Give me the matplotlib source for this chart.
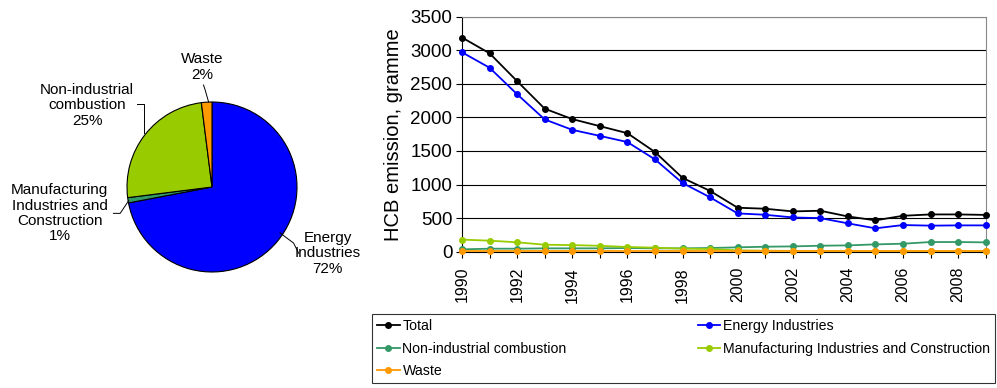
import numpy as np
import matplotlib.pyplot as plt

plt.rcParams['font.family'] = ['Liberation Sans', 'DejaVu Sans']

# ── Data ─────────────────────────────────────
years = list(range(1990, 2010))
total = [3190, 2955, 2540, 2130, 1975, 1870, 1765, 1485, 1100, 905,
         655, 640, 600, 610, 525, 467, 535, 555, 555, 548]
energy = [2970, 2740, 2345, 1970, 1815, 1725, 1633, 1375, 1023, 810,
          570, 550, 510, 500, 422, 348, 397, 388, 392, 392]
non_ind = [35, 45, 45, 50, 50, 50, 55, 50, 50, 55,
           65, 74, 79, 89, 94, 109, 119, 144, 144, 139]
manuf = [180, 164, 140, 104, 98, 88, 70, 60, 45, 40,
         20, 15, 12, 11, 10, 10, 10, 10, 10, 10]
waste = [8, 8, 8, 8, 8, 8, 8, 8, 8, 8,
         8, 8, 8, 8, 8, 8, 8, 8, 8, 8]

pie_labels = ["Energy\nIndustries\n72%", "Manufacturing\nIndustries and\nConstruction\n1%",
              "Non-industrial\ncombustion\n25%", "Waste\n2%"]
pie_share = [72, 1, 25, 2]
pie_colors = ["#0000FF", "#339966", "#99CC00", "#FF9900"]

W, H = 997, 388
fig = plt.figure(figsize=(W / 100, H / 100), dpi=100)

# ── Pie ──────────────────────────────────────
cx, cy, r = 212, 187, 85
axp = fig.add_axes([(cx - r) / W, (H - cy - r) / H, 2 * r / W, 2 * r / H])
axp.pie(pie_share, colors=pie_colors, startangle=90, counterclock=False,
        wedgeprops=dict(edgecolor="black", linewidth=0.8), radius=1)
axp.set_xlim(-1, 1)
axp.set_ylim(-1, 1)
axp.set_aspect("equal")
axp.axis("off")

# label text positions and leader lines (in pie units)
lab_pos = [(1.36, -0.78), (-1.79, -0.31), (-1.47, 0.96), (-0.11, 1.41)]
lead = [[(1.02, -0.78), (0.96, -0.66), (0.80, -0.54)],
        [(-1.16, -0.31), (-1.08, -0.31), (-0.98, -0.16)],
        [(-0.88, 0.98), (-0.80, 0.98), (-0.80, 0.63)],
        [(-0.10, 1.20), (-0.08, 1.14), (-0.04, 1.00)]]
for txt, pos, pts in zip(pie_labels, lab_pos, lead):
    axp.text(pos[0], pos[1], txt, ha="center", va="center",
             multialignment="center", fontsize=11, linespacing=1.12,
             clip_on=False)
    xs, ys = zip(*pts)
    axp.plot(xs, ys, color="black", linewidth=0.7, clip_on=False)

# ── Line chart ───────────────────────────────
x0, x1, y0, y1 = 462, 985.7, 16.7, 251.7
ax = fig.add_axes([x0 / W, (H - y1) / H, (x1 - x0) / W, (y1 - y0) / H])

series = [("Total", total, "black"),
          ("Energy Industries", energy, "#0000FF"),
          ("Non-industrial combustion", non_ind, "#339966"),
          ("Manufacturing Industries and Construction", manuf, "#99CC00"),
          ("Waste", waste, "#FF9900")]
handles = {}
for name, vals, col in series:
    h, = ax.plot(years, vals, "o-", color=col, linewidth=1.3, markersize=4,
                 clip_on=False, zorder=3, label=name)
    handles[name] = h

ax.set_xlim(1990, 2009)
ax.set_ylim(0, 3500)
ax.set_yticks(range(0, 3501, 500))
ax.set_xticks(years)
ax.set_xticklabels([str(y) if y % 2 == 0 else "" for y in years], rotation=90)
ax.tick_params(axis="both", direction="out", length=4, width=0.8)
ax.tick_params(axis="y", labelsize=13.5, pad=3)
ax.tick_params(axis="x", labelsize=11.5, pad=7)
ax.yaxis.grid(True, color="black", linewidth=0.8)
ax.set_axisbelow(True)
for s in ["top", "right"]:
    ax.spines[s].set_color("#888888")
ax.set_ylabel("HCB emission, gramme", fontsize=14.5, labelpad=5)

order = ["Total", "Non-industrial combustion", "Waste",
         "Energy Industries", "Manufacturing Industries and Construction"]
leg = fig.legend([handles[k] for k in order], order, ncol=2,
                 bbox_to_anchor=(372 / W, 1 - 383 / H, 623 / W, 66 / H),
                 loc="lower left", mode="expand", fontsize=10.2,
                 frameon=True, fancybox=False, edgecolor="black",
                 handlelength=1.6, handletextpad=0.2, labelspacing=0.6,
                 borderaxespad=0, borderpad=0.35)
leg.get_frame().set_linewidth(0.8)

plt.savefig("out.png", dpi=100)
